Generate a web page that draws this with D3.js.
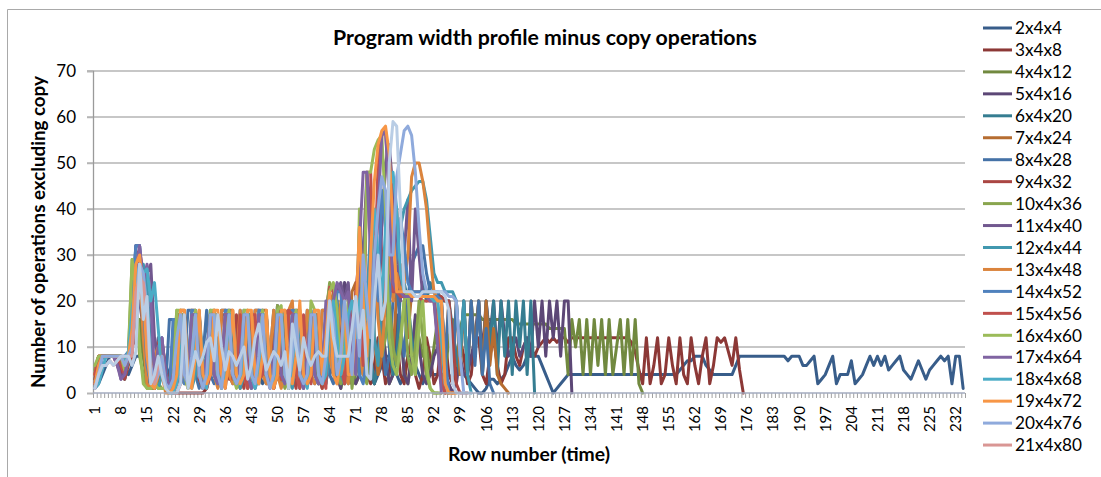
<!DOCTYPE html>
<html>
<head>
<meta charset="utf-8">
<script src="https://cdn.jsdelivr.net/npm/d3@7"></script>
<style>
  body { margin: 0; background: #fff; }
  svg { display: block; }
  text { font-family: Lato, "Open Sans", sans-serif; fill: #000; }
</style>
</head>
<body>
<svg id="chart" width="1101" height="477"></svg>
<script>
// ---- data -------------------------------------------------------------
const rowCount = 234;
const rowLabels = [1,8,15,22,29,36,43,50,57,64,71,78,85,92,99,106,113,120,127,134,141,148,155,162,169,176,183,190,197,204,211,218,225,232];
const yTicks = [0,10,20,30,40,50,60,70];

const seriesNames = ["2x4x4","3x4x8","4x4x12","5x4x16","6x4x20","7x4x24","8x4x28","9x4x32","10x4x36","11x4x40",
  "12x4x44","13x4x48","14x4x52","15x4x56","16x4x60","17x4x64","18x4x68","19x4x72","20x4x76","21x4x80","22x4x84"];
const seriesColors = ["#385D8A","#8C3836","#71893F","#5C4776","#357D91","#B66D31","#4572A7","#AA4643","#89A54E","#71588F",
  "#4198AF","#DB843D","#4F81BD","#C0504D","#9BBB59","#8064A2","#4BACC6","#F79646","#8FAADC","#D99694","#B9CDE5"];
// only the first twenty series fit in the legend box
const legendCount = 20;

const w2x4x4 = [
  1,2,4,6,8,8,8,8,6,4,
  6,8,8,8,6,4,2,4,8,6,
  4,2,4,8,8,4,2,4,6,8,
  8,6,4,2,4,8,8,6,4,2,
  4,6,8,8,4,2,4,8,8,6,
  4,2,4,6,8,8,4,2,4,8,
  8,6,4,4,6,8,8,6,4,2,
  4,8,8,6,4,2,4,6,8,8,
  6,4,2,4,8,8,6,4,2,4,
  4,4,4,4,4,4,3,4,6,4,
  3,2,1,0,0,1,3,3,2,3,
  4,6,8,6,5,6,8,8,8,8,
  6,4,2,0,1,2,3,4,4,4,
  4,4,4,4,4,4,4,4,4,4,
  4,4,4,4,4,4,4,4,4,4,
  4,4,4,4,4,4,4,5,6,7,
  7,8,8,8,6,5,4,4,4,4,
  4,4,6,8,8,8,8,8,8,8,
  8,8,8,8,8,8,7,8,8,8,
  6,6,7,8,2,3,4,6,8,2,
  4,4,4,7,2,3,4,6,8,6,
  8,6,8,5,6,7,8,5,4,3,
  5,7,5,3,5,6,7,8,7,8,
  2,8,8,1];
const w3x4x8 = [
  2,5,8,8,8,8,6,4,6,8,
  10,12,12,8,4,2,2,6,11,6,
  2,0,0,0,0,0,0,0,0,0,
  1,4,8,12,4,2,8,12,4,2,
  6,12,8,2,4,12,12,4,1,6,
  12,4,2,8,12,4,1,4,12,8,
  2,4,12,12,6,2,6,12,4,2,
  8,12,12,4,2,6,12,8,2,4,
  12,12,4,2,8,12,4,1,4,12,
  8,2,4,12,12,4,2,6,12,8,
  2,4,12,12,4,2,8,12,6,2,
  4,12,12,8,6,10,12,10,8,10,
  11,12,11,12,11,12,12,11,12,12,
  12,12,12,12,12,12,12,12,12,12,
  12,12,12,12,11,9,5,2,12,2,
  6,12,2,4,12,6,2,12,4,2,
  12,6,2,8,12,2,6,12,11,12,
  9,6,12,5,0];
const w4x4x12 = [
  3,6,8,8,8,8,8,6,3,8,
  12,16,16,8,2,1,1,4,8,4,
  2,8,16,16,4,1,4,16,8,2,
  4,16,16,4,1,8,16,4,2,8,
  16,16,4,2,4,16,8,2,4,16,
  16,4,1,8,16,8,2,4,16,16,
  4,2,8,16,16,4,1,4,16,8,
  2,4,16,16,4,2,8,16,8,2,
  4,16,16,4,2,8,16,12,8,10,
  4,10,16,8,4,12,16,6,14,17,
  17,17,17,17,16,16,16,16,16,16,
  16,16,16,15,15,15,15,15,15,15,
  15,15,14,14,14,14,14,4,16,10,
  16,4,16,4,16,6,16,4,16,4,
  10,16,4,16,4,16,2,0];
const w5x4x16 = [
  2,5,8,8,8,8,7,4,3,7,
  10,18,20,14,6,2,4,12,8,2,
  2,4,17,17,4,2,4,17,8,2,
  4,16,17,4,2,8,17,4,2,6,
  17,16,4,1,4,17,8,2,4,19,
  17,4,2,8,17,8,2,4,17,16,
  4,2,8,17,20,4,1,24,22,4,
  2,4,17,17,4,2,8,17,8,2,
  4,17,16,4,2,8,17,10,4,2,
  4,8,10,8,4,2,0,2,8,4,
  4,8,12,20,8,20,12,20,8,20,
  12,8,10,12,8,10,12,8,20,10,
  20,8,20,12,20,8,20,20,0];
const w6x4x20 = [
  1,3,8,8,8,8,8,8,5,8,
  14,24,24,20,8,2,1,6,10,4,
  1,6,17,17,4,2,8,17,4,2,
  6,17,17,4,1,8,17,4,2,8,
  17,17,4,2,4,17,8,2,4,17,
  17,4,1,8,17,8,2,4,17,17,
  4,2,8,17,17,4,2,4,17,20,
  10,4,20,24,8,2,6,20,24,10,
  4,8,22,24,20,12,6,18,24,20,
  24,22,20,20,20,20,14,8,4,20,
  4,20,8,20,4,20,10,20,4,20,
  8,20,4,20,10,20,4,20,0];
const w7x4x24 = [
  4,8,8,8,8,8,8,8,6,8,
  12,26,30,22,10,3,1,2,9,4,
  1,2,8,18,18,4,2,8,18,3,
  1,17,18,4,2,8,18,18,3,1,
  4,18,8,2,4,18,18,4,1,8,
  18,4,2,4,18,18,4,2,8,18,
  4,1,4,18,22,18,4,2,8,22,
  24,10,4,20,28,12,4,8,26,20,
  8,22,28,22,12,22,22,22,22,22,
  22,22,22,20,8,20,6,20,4,20,
  4,20,8,20,4,20,6,14,4,2,
  1,0];
const w8x4x28 = [
  1,4,8,8,8,8,8,8,7,8,
  20,32,32,14,4,1,2,8,4,1,
  16,16,4,2,6,18,18,4,1,8,
  18,4,2,4,18,18,4,2,8,18,
  4,1,4,18,18,4,2,8,18,4,
  2,4,18,18,4,1,8,18,4,2,
  4,18,18,4,2,8,18,4,2,6,
  14,36,30,8,4,16,28,12,4,8,
  20,24,14,8,20,28,30,32,32,26,
  22,22,22,20,6,20,4,20,8,20,
  4,20,6,20,4,14,2,0];
const w9x4x32 = [
  3,8,8,8,8,8,8,5,3,6,
  8,30,31,26,12,2,1,11,6,1,
  0,0,2,17,4,2,17,17,3,1,
  4,17,4,2,17,17,3,4,17,4,
  1,17,17,3,4,17,4,1,17,3,
  3,18,17,4,1,17,4,2,17,17,
  4,1,18,23,23,20,8,3,12,2,
  22,30,24,8,20,36,42,30,20,24,
  34,40,22,21,21,21,21,21,21,21,
  21,21,21,21,20,20,12,2,0,0,
  0];
const w10x4x36 = [
  5,8,8,8,8,8,8,8,6,9,
  29,20,8,4,1,1,1,2,1,1,
  2,8,18,4,2,4,17,17,4,1,
  8,17,4,2,4,17,17,4,2,8,
  17,4,1,4,17,17,4,2,8,19,
  4,1,4,17,17,4,2,8,18,4,
  2,4,17,24,22,8,2,4,17,1,
  8,10,4,2,30,34,20,8,12,20,
  10,6,12,20,8,4,10,20,12,4,
  1,0,0,0];
const w11x4x40 = [
  2,6,8,8,8,8,7,3,5,8,
  14,32,32,20,26,28,12,6,12,4,
  1,2,4,17,17,4,2,8,17,4,
  2,4,17,17,4,1,8,17,4,2,
  4,17,17,4,2,8,17,4,1,4,
  17,17,4,2,8,17,4,2,4,17,
  17,4,2,8,20,22,24,20,24,12,
  4,20,30,48,40,28,18,36,50,54,
  44,28,20,30,42,20,40,30,21,21,
  21,21,14,4,0];
const w12x4x44 = [
  1,5,8,8,8,8,8,8,4,7,
  10,22,28,28,24,10,2,1,4,2,
  0,1,6,17,17,4,1,4,17,8,
  2,4,17,17,4,2,8,17,4,1,
  4,17,17,4,2,8,17,4,2,4,
  17,17,4,1,8,17,4,2,4,17,
  17,4,2,8,17,20,4,2,8,17,
  20,8,4,20,36,12,6,22,30,20,
  24,30,36,40,42,44,45,46,46,42,
  34,26,24,24,22,22,22,20,8,20,
  4,0];
const w13x4x48 = [
  4,8,8,8,8,8,8,8,7,8,
  12,30,26,12,2,1,8,10,4,0,
  0,2,10,18,4,1,18,18,4,1,
  6,17,4,1,18,18,4,2,8,18,
  4,1,4,18,18,4,2,8,18,4,
  1,4,18,20,4,2,8,18,4,2,
  4,18,18,8,4,10,20,4,2,14,
  20,8,4,12,20,30,16,8,20,30,
  20,26,22,24,30,47,50,50,46,40,
  30,22,20,2,0,0,0,0];
const w14x4x52 = [
  1,3,8,8,8,8,8,8,8,9,
  20,32,32,20,6,2,4,8,12,2,
  1,16,16,4,2,6,18,18,4,1,
  8,18,4,2,4,18,18,4,2,8,
  18,4,1,4,18,18,4,2,8,18,
  4,2,4,18,18,4,1,8,18,4,
  2,4,18,18,4,22,22,8,4,10,
  18,4,2,8,34,30,20,44,36,20,
  26,30,38,32,24,22,22,22,22,21,
  21,21,21,20,8,0];
const w15x4x56 = [
  4,8,8,8,8,8,8,6,4,8,
  10,20,30,24,16,4,1,6,11,4,
  1,0,0,2,17,4,2,17,17,3,
  1,4,17,4,2,17,17,3,4,17,
  4,1,17,17,3,4,17,4,1,17,
  3,3,18,17,4,1,17,4,2,17,
  17,4,1,23,22,18,6,2,12,20,
  8,20,6,48,48,22,50,56,57,44,
  22,22,21,21,21,21,21,21,20,20,
  20,20,12,2,0];
const w16x4x60 = [
  6,8,8,8,8,8,8,8,5,8,
  29,22,10,2,1,1,2,1,1,1,
  1,2,18,18,4,1,8,18,4,2,
  4,18,18,4,2,8,18,4,1,4,
  18,18,4,2,8,18,4,2,4,18,
  19,4,1,8,18,4,2,4,20,18,
  4,2,8,22,24,18,4,10,20,4,
  4,40,14,48,48,53,55,56,40,12,
  6,4,10,20,22,8,4,14,20,6,
  1,0,0];
const w17x4x64 = [
  2,5,8,8,8,8,6,3,4,8,
  12,26,32,24,28,20,4,10,12,4,
  1,4,8,17,4,2,17,17,4,1,
  8,17,4,2,4,17,17,4,2,8,
  17,4,1,4,17,17,4,2,8,17,
  4,2,4,17,17,4,1,8,17,4,
  2,4,20,20,20,24,22,20,22,10,
  4,32,48,48,30,20,40,56,57,42,
  24,22,22,21,21,21,21,21,21,21,
  20,20,10,0];
const w18x4x68 = [
  1,2,5,8,8,8,8,8,7,9,
  18,24,28,26,27,20,24,14,4,2,
  0,0,2,8,17,4,2,17,17,4,
  1,8,17,4,2,4,17,17,4,2,
  8,17,4,1,4,17,17,4,2,8,
  17,4,2,4,17,17,4,1,8,17,
  4,2,4,17,20,12,4,8,17,20,
  12,20,24,16,28,40,30,20,36,44,
  48,40,26,22,22,22,21,21,21,21,
  21,20,20,12,2,0];
const w19x4x72 = [
  2,6,8,8,8,8,8,8,6,8,
  14,28,30,22,8,2,1,4,8,1,
  0,1,4,18,18,4,1,8,18,4,
  2,4,18,18,4,1,8,18,4,2,
  4,18,18,4,2,8,18,4,1,4,
  18,18,4,2,8,20,4,2,4,18,
  18,4,12,22,4,2,8,20,4,4,
  16,36,20,8,30,46,54,57,58,52,
  36,22,22,22,22,21,21,21,21,21,
  21,21,20,20,2,0,0,0];
const w20x4x76 = [
  1,4,8,8,8,8,8,8,6,8,
  10,20,28,26,18,6,2,4,8,2,
  1,3,12,17,4,2,8,17,4,1,
  4,17,17,4,1,8,17,4,2,4,
  17,17,4,2,8,17,4,1,4,17,
  17,4,2,8,17,4,2,4,17,17,
  4,2,8,20,16,4,8,20,12,4,
  20,8,30,20,12,30,40,47,44,30,
  30,47,52,57,58,56,48,36,26,22,
  22,22,22,22,22,21,21,20,8,0];
const w21x4x80 = [
  1,4,6,6,7,6,7,8,8,8,
  8,22,25,24,16,4,2,6];
const w22x4x84 = [
  1,4,6,6,7,6,7,8,8,8,
  6,9,28,16,21,2,4,8,4,1,
  0,0,0,2,17,1,5,9,6,8,
  11,12,7,17,10,5,9,8,6,8,
  10,3,6,12,15,9,5,7,9,8,
  6,9,1,15,10,5,12,8,6,8,
  9,8,8,20,12,8,8,8,8,14,
  21,12,18,4,3,20,30,16,20,50,
  59,58,40,22,22,22,21,21,22,22,
  22,22,22,22,21,18,2,0,0,0,
  0,0];

const seriesValues = [w2x4x4,w3x4x8,w4x4x12,w5x4x16,w6x4x20,w7x4x24,w8x4x28,w9x4x32,w10x4x36,w11x4x40,
  w12x4x44,w13x4x48,w14x4x52,w15x4x56,w16x4x60,w17x4x64,w18x4x68,w19x4x72,w20x4x76,w21x4x80,w22x4x84];

// ---- layout -------------------------------------------------------------
const svg = d3.select("#chart");
const plot = { left: 93, right: 965, top: 71, bottom: 393 };
const rows = Array.from({ length: rowCount }, (_, i) => i + 1);

const x = d3.scaleBand().domain(rows).range([plot.left, plot.right]).padding(0);
const bw = x.bandwidth();
const xEdge = d3.scaleLinear().domain([0, rowCount]).range([plot.left, plot.right]);
const y = d3.scaleLinear().domain([0, 70]).range([plot.bottom, plot.top]);

// chart area frame
svg.append("path")
  .attr("d", "M7.5,477 L7.5,9.5 L1101,9.5")
  .attr("fill", "none").attr("stroke", "#a9a9a9").attr("stroke-width", 1);

// horizontal gridlines (extend left as the major tick marks)
svg.append("g").selectAll("line")
  .data(yTicks.filter(t => t > 0))
  .join("line")
  .attr("x1", plot.left - 6).attr("x2", plot.right)
  .attr("y1", d => y(d)).attr("y2", d => y(d))
  .attr("stroke", "#b5b5b5").attr("stroke-width", 1.5);

// y axis
const yAxis = svg.append("g")
  .attr("transform", `translate(${plot.left},0)`)
  .call(d3.axisLeft(y).tickValues(yTicks).tickSize(6).tickPadding(11).tickFormat(d3.format("d")));
yAxis.select(".domain").attr("stroke", "#9a9a9a").attr("stroke-width", 1.3);
yAxis.selectAll(".tick line").attr("stroke", "#b5b5b5").attr("stroke-width", 1.5);
yAxis.selectAll(".tick text")
  .attr("font-size", 17).attr("font-family", "Lato, sans-serif").attr("fill", "#000");

// x axis: minor tick at each category boundary
const xTickAxis = svg.append("g")
  .attr("transform", `translate(0,${plot.bottom})`)
  .call(d3.axisBottom(xEdge).tickValues(d3.range(0, rowCount + 1)).tickSize(5).tickFormat(""));
xTickAxis.select(".domain").remove();
xTickAxis.selectAll(".tick line").attr("stroke", "#a0a0a0").attr("stroke-width", 1);

// x axis labels, rotated
const xLabelAxis = svg.append("g")
  .attr("transform", `translate(0,${plot.bottom})`)
  .call(d3.axisBottom(x).tickValues(rowLabels).tickSize(0));
xLabelAxis.select(".domain").remove();
xLabelAxis.selectAll(".tick text")
  .attr("transform", "rotate(-90)")
  .attr("x", -13).attr("y", 0).attr("dy", "0.36em")
  .attr("text-anchor", "end")
  .attr("font-size", 15).attr("font-family", "Lato, sans-serif").attr("fill", "#000");

// series lines
const line = d3.line()
  .defined(d => d != null)
  .x((d, i) => x(rows[i]) + bw / 2)
  .y(d => y(d));

svg.append("g").selectAll("path")
  .data(seriesValues)
  .join("path")
  .attr("d", d => line(d))
  .attr("fill", "none")
  .attr("stroke", (d, i) => seriesColors[i])
  .attr("stroke-width", 3)
  .attr("stroke-linejoin", "round")
  .attr("stroke-linecap", "round");

// x axis line on top of the zero values
svg.append("line")
  .attr("x1", plot.left).attr("x2", plot.right)
  .attr("y1", plot.bottom).attr("y2", plot.bottom)
  .attr("stroke", "#a3abbf").attr("stroke-width", 1.5);

// text helper: scale font size so the string spans the given width
function fitWidth(sel, target) {
  const w = sel.node().getComputedTextLength();
  const fs = parseFloat(sel.attr("font-size"));
  sel.attr("font-size", fs * target / w);
}

// title
const title = svg.append("text")
  .attr("x", 545).attr("y", 45)
  .attr("text-anchor", "middle")
  .attr("font-weight", "bold").attr("font-size", 20)
  .text("Program width profile minus copy operations");
fitWidth(title, 424);

// axis titles
const yTitle = svg.append("text")
  .attr("transform", "translate(45,232) rotate(-90)")
  .attr("text-anchor", "middle")
  .attr("font-weight", "bold").attr("font-size", 17)
  .text("Number of operations excluding copy");
fitWidth(yTitle, 312);

const xTitle = svg.append("text")
  .attr("x", 529).attr("y", 461)
  .attr("text-anchor", "middle")
  .attr("font-weight", "bold").attr("font-size", 17)
  .text("Row number (time)");
fitWidth(xTitle, 162);

// legend
const legend = svg.append("g");
const legendItems = legend.selectAll("g")
  .data(seriesNames.slice(0, legendCount))
  .join("g")
  .attr("transform", (d, i) => `translate(0,${28 + i * 21.95})`);
legendItems.append("line")
  .attr("x1", 983).attr("x2", 1012)
  .attr("y1", 0).attr("y2", 0)
  .attr("stroke", (d, i) => seriesColors[i])
  .attr("stroke-width", 3);
const legendText = legendItems.append("text")
  .attr("x", 1015).attr("y", 0).attr("dy", "0.36em")
  .attr("font-size", 17)
  .text(d => d);
const probe = legendText.filter(d => d === "21x4x80");
const lw = probe.node().getComputedTextLength();
legendText.attr("font-size", 17 * 67 / lw);
</script>
</body>
</html>
